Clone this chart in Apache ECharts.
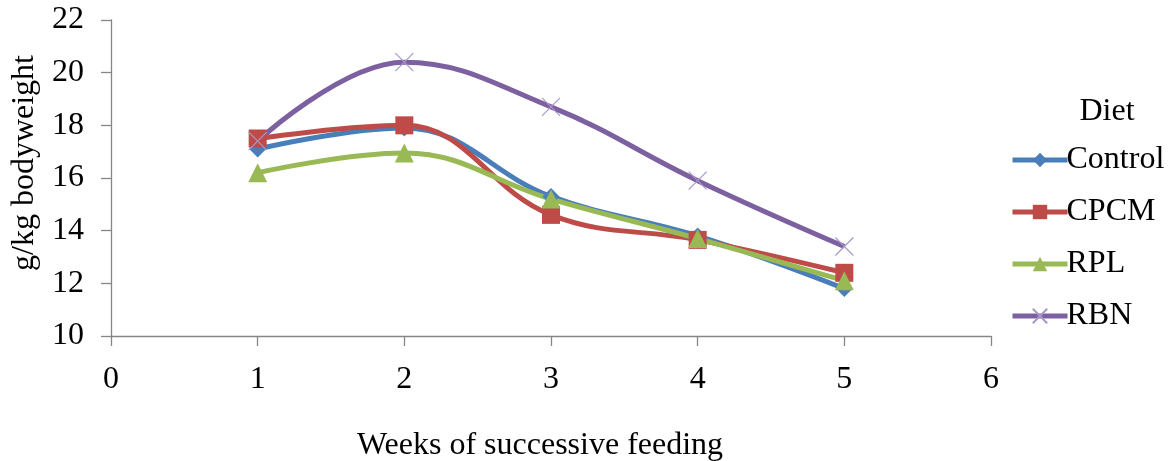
<!DOCTYPE html>
<html>
<head>
<meta charset="utf-8">
<script src="https://cdn.jsdelivr.net/npm/echarts@6/dist/echarts.min.js"></script>
<style>
html,body{margin:0;padding:0;background:#fff;}
#chart{width:1170px;height:461px;}
</style>
</head>
<body>
<div id="chart"></div>
<script>
const weeks = [1, 2, 3, 4, 5];
const seriesNames = ['Control', 'CPCM', 'RPL', 'RBN'];
const control = [17.1, 17.9, 15.3, 13.8, 11.8];
const cpcm = [17.5, 18.0, 14.6, 13.65, 12.4];
const rpl = [16.2, 16.95, 15.2, 13.7, 12.1];
const rbn = [17.4, 20.4, 18.7, 15.9, 13.4];
const xTitle = 'Weeks of successive feeding';
const yTitle = 'g/kg bodyweight';
const legendTitle = 'Diet';

const FONT = '"Liberation Serif", "Times New Roman", serif';
const FS = 32;
const pair = vals => weeks.map((w, i) => [w, vals[i]]);

const chart = echarts.init(document.getElementById('chart'));
const mk = (name, vals, color, symbol, size, extra) => Object.assign({
  name: name,
  type: 'line',
  data: pair(vals),
  smooth: 0.4,
  symbol: symbol,
  symbolSize: size,
  lineStyle: { color: color, width: 5 },
  itemStyle: { color: color },
  emphasis: { disabled: true },
  animation: false
}, extra || {});

chart.setOption({
  animation: false,
  grid: { left: 111, right: 179, top: 20, bottom: 125, containLabel: false },
  xAxis: {
    type: 'value', min: 0, max: 6, interval: 1,
    axisLine: { show: true, lineStyle: { color: '#868686', width: 1.3 } },
    axisTick: { show: true, length: 10, lineStyle: { color: '#868686', width: 1.3 } },
    axisLabel: { margin: 28, fontFamily: FONT, fontSize: FS, color: '#000' },
    splitLine: { show: false }
  },
  yAxis: {
    type: 'value', min: 10, max: 22, interval: 2,
    axisLine: { show: true, lineStyle: { color: '#868686', width: 1.3 } },
    axisTick: { show: true, length: 10, lineStyle: { color: '#868686', width: 1.3 } },
    axisLabel: { margin: 27, fontFamily: FONT, fontSize: FS, color: '#000' },
    splitLine: { show: false }
  },
  legend: {
    orient: 'vertical',
    left: 1005, top: 139,
    itemWidth: 55, itemHeight: 18, itemGap: 20,
    lineStyle: { width: 5 },
    textStyle: { fontFamily: FONT, fontSize: FS, color: '#000', padding: [0, 0, 0, -6] },
    data: seriesNames
  },
  graphic: [
    { type: 'text', x: 1107, y: 112, style: { text: legendTitle, font: FS + 'px ' + FONT, fill: '#000', align: 'center', verticalAlign: 'middle' } },
    { type: 'text', x: 540, y: 446, style: { text: xTitle, font: FS + 'px ' + FONT, fill: '#000', align: 'center', verticalAlign: 'middle' } },
    { type: 'text', x: 25, y: 163, rotation: Math.PI / 2, style: { text: yTitle, font: FS + 'px ' + FONT, fill: '#000', align: 'center', verticalAlign: 'middle' } }
  ],
  series: [
    mk(seriesNames[0], control, '#4A7EBB', 'diamond', 17),
    mk(seriesNames[1], cpcm, '#BE4B48', 'rect', 18),
    mk(seriesNames[2], rpl, '#98B954', 'triangle', 19),
    mk(seriesNames[3], rbn, '#7D60A0', 'path://M0,0L10,10M10,0L0,10', 18, {
      itemStyle: { color: '#7D60A0', borderColor: '#A898C8', borderWidth: 1.2 }
    })
  ]
});
</script>
</body>
</html>
